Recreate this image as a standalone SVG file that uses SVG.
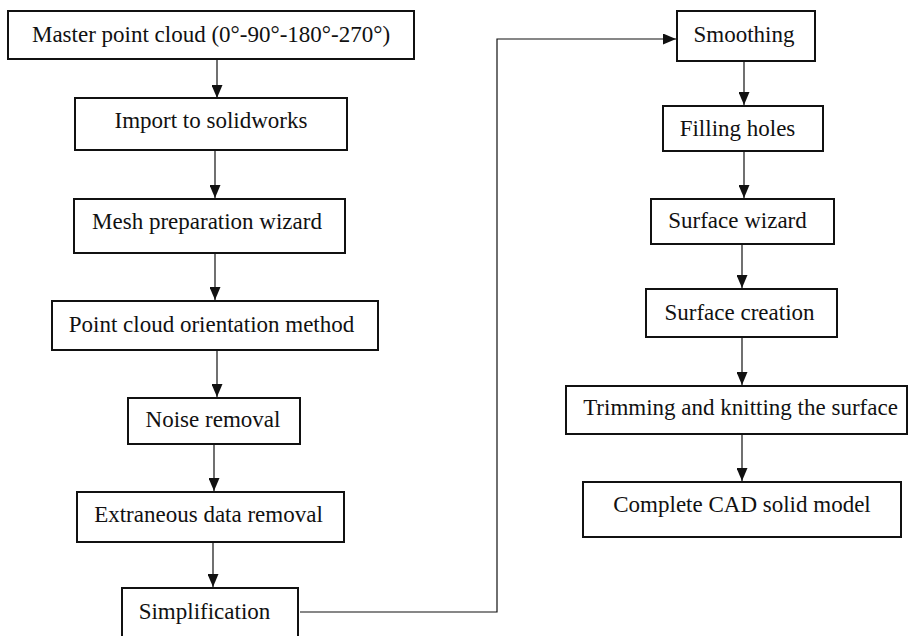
<svg xmlns="http://www.w3.org/2000/svg" width="909" height="636" viewBox="0 0 909 636">
  <style>
    .box { fill: #ffffff; stroke: #111111; stroke-width: 2; }
    .lbl { font-family: "Liberation Serif", "Times New Roman", serif; font-size: 23px; fill: #111111; text-anchor: middle; }
    .con { fill: none; stroke: #111111; stroke-width: 1.2; }
  </style>
  <defs>
    <marker id="arrow" viewBox="0 0 13 11" refX="13" refY="5.5" markerWidth="13" markerHeight="11" markerUnits="userSpaceOnUse" orient="auto">
      <path d="M0,0 L13,5.5 L0,11 Z" fill="#111111"/>
    </marker>
  </defs>
  <rect x="0" y="0" width="909" height="636" fill="#ffffff"/>

  <g id="connectors">
    <line class="con" x1="217" y1="59" x2="217" y2="98" marker-end="url(#arrow)"/>
    <line class="con" x1="215" y1="150" x2="215" y2="198" marker-end="url(#arrow)"/>
    <line class="con" x1="215" y1="253" x2="215" y2="300" marker-end="url(#arrow)"/>
    <line class="con" x1="217" y1="350" x2="217" y2="397" marker-end="url(#arrow)"/>
    <line class="con" x1="214" y1="444" x2="214" y2="491" marker-end="url(#arrow)"/>
    <line class="con" x1="213" y1="542" x2="213" y2="587" marker-end="url(#arrow)"/>
    <path class="con" d="M300,612 H497 V39 H676" marker-end="url(#arrow)"/>
    <line class="con" x1="744" y1="61" x2="744" y2="105" marker-end="url(#arrow)"/>
    <line class="con" x1="744" y1="151" x2="744" y2="198" marker-end="url(#arrow)"/>
    <line class="con" x1="742" y1="244" x2="742" y2="288" marker-end="url(#arrow)"/>
    <line class="con" x1="742" y1="337" x2="742" y2="385" marker-end="url(#arrow)"/>
    <line class="con" x1="742" y1="434" x2="742" y2="481" marker-end="url(#arrow)"/>
  </g>

  <g id="n1"><rect class="box" x="8" y="11" width="406" height="48"/><text class="lbl" x="211" y="42">Master point cloud (0°-90°-180°-270°)</text></g>
  <g id="n2"><rect class="box" x="75" y="98" width="272" height="52"/><text class="lbl" x="211" y="128">Import to solidworks</text></g>
  <g id="n3"><rect class="box" x="74" y="199" width="271" height="54"/><text class="lbl" x="207" y="229">Mesh preparation wizard</text></g>
  <g id="n4"><rect class="box" x="52" y="301" width="326" height="49"/><text class="lbl" x="211.5" y="332">Point cloud orientation method</text></g>
  <g id="n5"><rect class="box" x="128" y="398" width="172" height="46"/><text class="lbl" x="213" y="427">Noise removal</text></g>
  <g id="n6"><rect class="box" x="77" y="492" width="267" height="50"/><text class="lbl" x="208.5" y="522">Extraneous data removal</text></g>
  <g id="n7"><rect class="box" x="122" y="588" width="176" height="60"/><text class="lbl" x="204.5" y="619">Simplification</text></g>
  <g id="n8"><rect class="box" x="677" y="11" width="138" height="50"/><text class="lbl" x="744" y="42">Smoothing</text></g>
  <g id="n9"><rect class="box" x="663" y="106" width="160" height="45"/><text class="lbl" x="737.5" y="136">Filling holes</text></g>
  <g id="n10"><rect class="box" x="651" y="199" width="183" height="45"/><text class="lbl" x="737.5" y="228">Surface wizard</text></g>
  <g id="n11"><rect class="box" x="646" y="289" width="191" height="48"/><text class="lbl" x="739.5" y="320">Surface creation</text></g>
  <g id="n12"><rect class="box" x="566" y="386" width="341" height="48"/><text class="lbl" x="740.5" y="415">Trimming and knitting the surface</text></g>
  <g id="n13"><rect class="box" x="583" y="482" width="318" height="55"/><text class="lbl" x="742" y="512">Complete CAD solid model</text></g>
</svg>
